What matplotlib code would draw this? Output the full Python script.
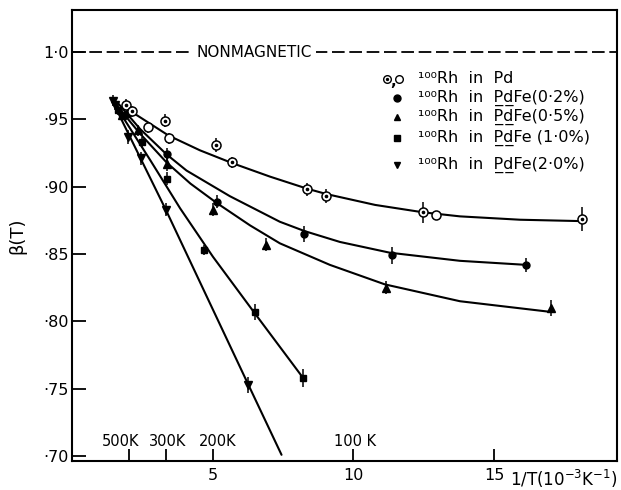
import matplotlib.pyplot as plt

plt.rcParams["font.family"] = ["DejaVu Sans"]

# beta(T) data, x = 1/T in 1e-3 K^-1
pd_x = [1.89, 2.13, 2.68, 3.29, 3.42, 5.10, 5.69, 8.36, 9.03, 12.49, 12.93, 18.15]
pd_y = [0.961, 0.956, 0.944, 0.949, 0.936, 0.931, 0.918, 0.898, 0.893, 0.881, 0.879, 0.876]
pd_err = [0.004, 0.004, 0.004, 0.005, 0.004, 0.005, 0.004, 0.005, 0.005, 0.008, 0.003, 0.009]
pd_dot = [True, True, False, True, False, True, True, True, True, True, False, True]

fe02_x = [1.93, 3.35, 5.13, 8.25, 11.36, 16.14]
fe02_y = [0.954, 0.924, 0.889, 0.865, 0.849, 0.842]
fe02_err = [0.004, 0.005, 0.005, 0.006, 0.006, 0.005]

fe05_x = [1.75, 2.34, 3.35, 5.01, 6.88, 11.16, 17.02]
fe05_y = [0.953, 0.942, 0.917, 0.883, 0.857, 0.825, 0.810]
fe05_err = [0.004, 0.004, 0.005, 0.005, 0.005, 0.005, 0.006]

fe10_x = [1.63, 2.46, 3.35, 4.68, 6.49, 8.21]
fe10_y = [0.957, 0.933, 0.906, 0.853, 0.807, 0.758]
fe10_err = [0.004, 0.004, 0.005, 0.004, 0.006, 0.007]

fe20_x = [1.45, 1.51, 1.99, 2.43, 3.32, 6.26]
fe20_y = [0.964, 0.961, 0.937, 0.921, 0.883, 0.753]
fe20_err = [0.004, 0.004, 0.005, 0.005, 0.005, 0.006]

# hand-drawn guide curves
pd_fit_x = [2.15, 3.42, 4.54, 5.69, 7.03, 8.36, 9.05, 10.77, 12.48, 13.79, 15.93, 18.06]
pd_fit_y = [0.955, 0.938, 0.927, 0.9175, 0.9075, 0.8985, 0.8945, 0.8865, 0.881, 0.878, 0.8755, 0.8745]
fe02_fit_x = [1.62, 2.40, 3.35, 4.06, 5.60, 7.38, 8.27, 9.52, 11.30, 13.79, 16.14]
fe02_fit_y = [0.962, 0.943, 0.924, 0.912, 0.893, 0.874, 0.867, 0.859, 0.851, 0.845, 0.842]
fe05_fit_x = [1.55, 2.40, 3.35, 4.20, 5.13, 6.32, 7.38, 9.16, 11.12, 13.79, 17.05]
fe05_fit_y = [0.961, 0.9395, 0.918, 0.9023, 0.888, 0.8713, 0.858, 0.842, 0.8275, 0.815, 0.807]
fe10_fit_x = [1.48, 2.76, 3.83, 5.00, 6.49, 8.21]
fe10_fit_y = [0.962, 0.920, 0.884, 0.848, 0.806, 0.758]
fe20_fit_x = [1.41, 3.32, 6.26, 7.44]
fe20_fit_y = [0.964, 0.883, 0.753, 0.701]

temps_K = [500, 300, 200, 100]
temp_labels = ["500K", "300K", "200K", "100 K"]
x_ticks = [5, 10, 15]
y_ticks = [0.70, 0.75, 0.80, 0.85, 0.90, 0.95, 1.00]
y_ticklabels = ["·70", "·75", "·80", "·85", "·90", "·95", "1·0"]

legend_labels = [
    "¹⁰⁰Rh  in  Pd",
    "¹⁰⁰Rh  in  P\u0332d\u0332Fe(0·2%)",
    "¹⁰⁰Rh  in  P\u0332d\u0332Fe(0·5%)",
    "¹⁰⁰Rh  in  P\u0332d\u0332Fe (1·0%)",
    "¹⁰⁰Rh  in  P\u0332d\u0332Fe(2·0%)",
]

fig = plt.figure(figsize=(6.21, 4.90), dpi=100)
ax = fig.add_axes([0.1167, 0.0592, 0.8769, 0.9204])
ax.set_xlim(0, 19.38)
ax.set_ylim(0.6964, 1.0312)

lw_fit = 1.5
for fx, fy in [(pd_fit_x, pd_fit_y), (fe02_fit_x, fe02_fit_y), (fe05_fit_x, fe05_fit_y),
               (fe10_fit_x, fe10_fit_y), (fe20_fit_x, fe20_fit_y)]:
    ax.plot(fx, fy, color="k", lw=lw_fit, solid_capstyle="round", zorder=2)

series = [
    (fe02_x, fe02_y, fe02_err, "o", 5),
    (fe05_x, fe05_y, fe05_err, "^", 5.5),
    (fe10_x, fe10_y, fe10_err, "s", 5),
    (fe20_x, fe20_y, fe20_err, "v", 5.5),
]
for sx, sy, se, m, ms in series:
    ax.errorbar(sx, sy, yerr=se, fmt="none", ecolor="k", elinewidth=1.1, zorder=3)
    ax.plot(sx, sy, m, color="k", ms=ms, zorder=4)

ax.errorbar(pd_x, pd_y, yerr=pd_err, fmt="none", ecolor="k", elinewidth=1.1, zorder=3)
ax.plot(pd_x, pd_y, "o", mfc="white", mec="k", mew=1.1, ms=6.5, zorder=4)
ax.plot([x for x, d in zip(pd_x, pd_dot) if d], [y for y, d in zip(pd_y, pd_dot) if d],
        "o", color="k", ms=1.6, zorder=5)

# nonmagnetic limit
ax.axhline(1.0, color="k", lw=1.3, linestyle=(0, (7, 2.6)), zorder=1)
ax.text(6.47, 1.0, "NONMAGNETIC", ha="center", va="center", fontsize=11,
        bbox=dict(fc="white", ec="none", pad=3), zorder=2)

# legend drawn by hand
leg_y = [0.980, 0.966, 0.952, 0.936, 0.916]
ax.plot([11.2], [leg_y[0]], "o", mfc="white", mec="k", mew=1, ms=5.5)
ax.plot([11.2], [leg_y[0]], "o", color="k", ms=1.4)
ax.text(11.41, leg_y[0] - 0.002, ",", ha="center", va="center", fontsize=11, fontweight="bold")
ax.plot([11.62], [leg_y[0]], "o", mfc="white", mec="k", mew=1, ms=5.5)
for yy, m in zip(leg_y[1:], ["o", "^", "s", "v"]):
    ax.plot([11.55], [yy], m, color="k", ms=5)
for yy, lab in zip(leg_y, legend_labels):
    ax.text(12.3, yy, lab, ha="left", va="center", fontsize=11.5)

# axes styling
for sp in ax.spines.values():
    sp.set_linewidth(1.5)
ax.set_yticks(y_ticks)
ax.set_yticklabels(y_ticklabels)
ax.tick_params(axis="y", direction="in", length=10, width=1.3, labelsize=11.5, pad=3)

k_x = [1000.0 / t for t in temps_K]
ax.set_xticks(k_x[:2] + x_ticks)
ax.set_xticklabels(["", ""] + [str(v) for v in x_ticks])
ax.tick_params(axis="x", direction="in", length=9, width=1.3, labelsize=11.5, pad=5)

label_shift = [-0.3, 0.05, 0.17, 0.05]
for kx, lab, dx in zip(k_x, temp_labels, label_shift):
    ax.text(kx + dx, 0.7105, lab, ha="center", va="center", fontsize=10.5)

fig.text(0.028, 0.518, "β(T)", rotation=90, ha="center", va="center", fontsize=13)
fig.text(0.995, 0.022, "1/T(10$^{-3}$K$^{-1}$)", ha="right", va="center", fontsize=12)

fig.savefig("out.png", dpi=100)
